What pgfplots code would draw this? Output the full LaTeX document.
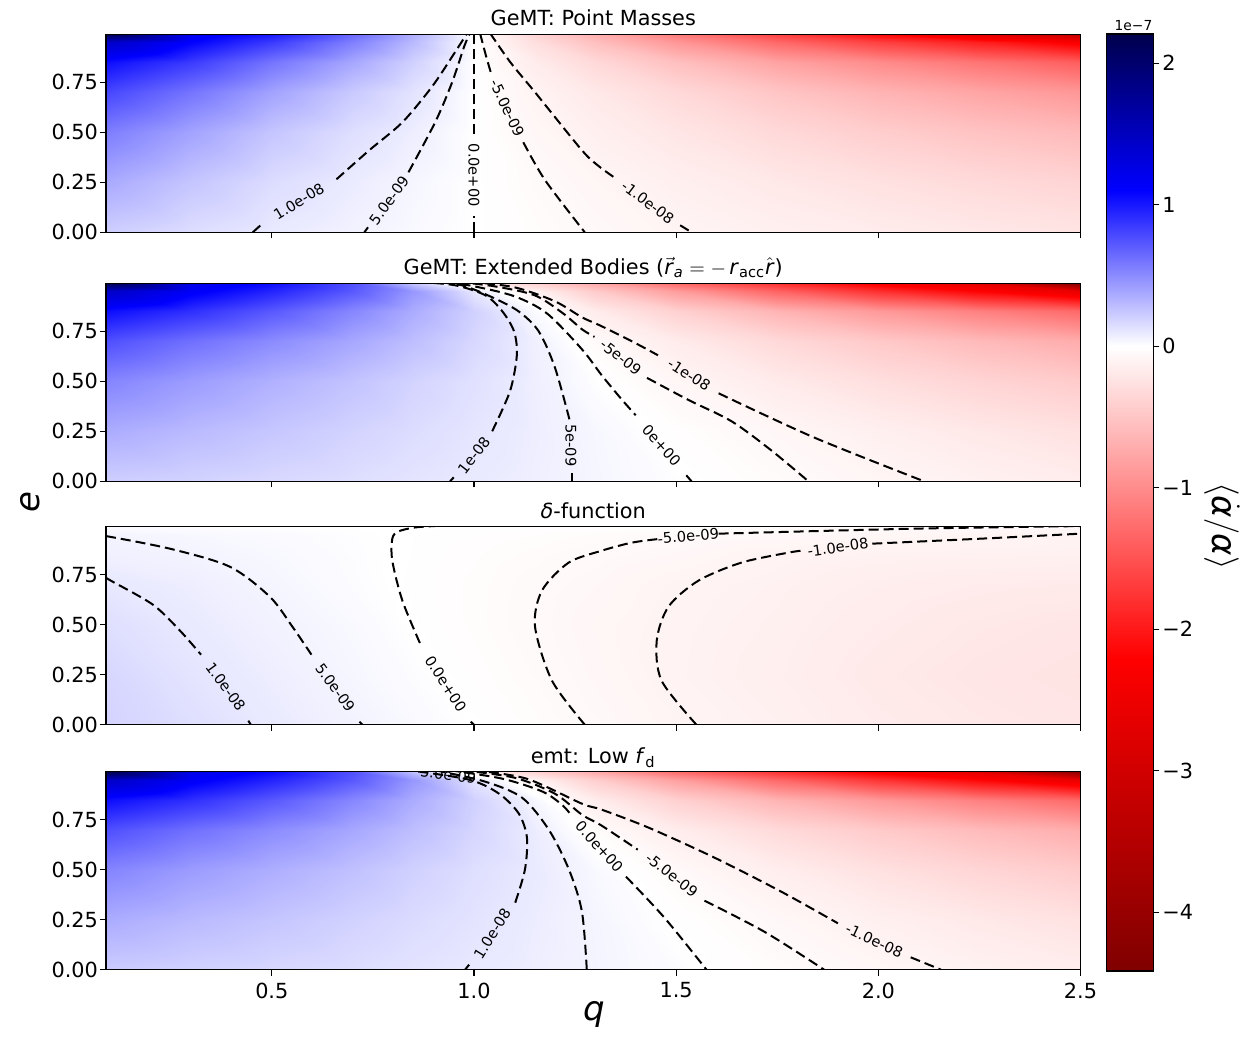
\documentclass[border=0pt]{standalone}
\usepackage{pgfplots}
\pgfplotsset{compat=1.18}
\usepackage{fontspec}
\setmainfont{DejaVu Sans}

\newcommand{\tk}{\fontsize{10.4}{12}\selectfont}
\newcommand{\cl}{\fontsize{7.3}{8}\selectfont}
\newcommand{\axl}{\fontsize{17}{20}\selectfont}

\pgfplotsset{
  colormap={seisr}{rgb(0pt)=(0.5,0,0); rgb(220.75pt)=(1,0,0); rgb(441.5pt)=(1,1,1); rgb(551.85pt)=(0,0,1); rgb(662.2pt)=(0,0,0.3)},
  every axis title/.style={at={(0.5,1)}, anchor=base, yshift=4.2pt, font=\tk},
  panel/.style={
    anchor=south west, at={(53pt,#1)},
    scale only axis, width=487.25pt, height=99pt,
    xmin=0.09, xmax=2.5, ymin=0, ymax=0.99,
    xtick={0.5,1,1.5,2,2.5}, ytick={0,0.25,0.5,0.75},
    yticklabels={0.00,0.25,0.50,0.75}, xticklabels={},
    tick align=outside, tick pos=left, major tick length=3pt,
    tick style={black, line width=0.55pt},
    axis line style={line width=0.55pt},
    tick label style={font=\tk},
    yticklabel style={xshift=2.5pt},
    colormap name=seisr, point meta min=-4.415, point meta max=2.207,
    axis on top,
  },
  heat/.style={surf, shader=interp, mesh/cols=13, point meta=explicit},
  cont/.style={black, line width=1pt, dash pattern=on 5pt off 2.5pt, smooth, tension=0.5},
}

\begin{document}
\begin{tikzpicture}
\path[use as bounding box] (0,0) rectangle (625.5pt,521pt);

% ---- panel 1: point masses
\begin{axis}[panel=404.85pt, title={GeMT: Point Masses}]
\addplot[heat] coordinates {
(0.09,0)[0.21] (0.3,0)[0.145] (0.5,0)[0.093] (0.7,0)[0.055] (0.85,0)[0.027] (1,0)[0] (1.15,0)[-0.027] (1.3,0)[-0.055] (1.5,0)[-0.09] (1.75,0)[-0.13] (2,0)[-0.165] (2.25,0)[-0.2] (2.5,0)[-0.235]
(0.09,0.25)[0.37] (0.3,0.25)[0.25] (0.5,0.25)[0.15] (0.7,0.25)[0.085] (0.85,0.25)[0.04] (1,0.25)[0] (1.15,0.25)[-0.042] (1.3,0.25)[-0.08] (1.5,0.25)[-0.135] (1.75,0.25)[-0.2] (2,0.25)[-0.26] (2.25,0.25)[-0.32] (2.5,0.25)[-0.37]
(0.09,0.5)[0.56] (0.3,0.5)[0.4] (0.5,0.5)[0.25] (0.7,0.5)[0.14] (0.85,0.5)[0.075] (1,0.5)[0] (1.15,0.5)[-0.07] (1.3,0.5)[-0.135] (1.5,0.5)[-0.22] (1.75,0.5)[-0.33] (2,0.5)[-0.43] (2.25,0.5)[-0.52] (2.5,0.5)[-0.6]
(0.09,0.7)[0.8] (0.3,0.7)[0.6] (0.5,0.7)[0.4] (0.7,0.7)[0.23] (0.85,0.7)[0.12] (1,0.7)[0] (1.15,0.7)[-0.1] (1.3,0.7)[-0.2] (1.5,0.7)[-0.33] (1.75,0.7)[-0.5] (2,0.7)[-0.65] (2.25,0.7)[-0.78] (2.5,0.7)[-0.9]
(0.09,0.85)[1.05] (0.3,0.85)[0.85] (0.5,0.85)[0.6] (0.7,0.85)[0.38] (0.85,0.85)[0.2] (1,0.85)[0] (1.15,0.85)[-0.17] (1.3,0.85)[-0.33] (1.5,0.85)[-0.55] (1.75,0.85)[-0.8] (2,0.85)[-1.0] (2.25,0.85)[-1.2] (2.5,0.85)[-1.4]
(0.09,0.95)[1.45] (0.3,0.95)[1.1] (0.5,0.95)[0.85] (0.7,0.95)[0.55] (0.85,0.95)[0.3] (1,0.95)[0] (1.15,0.95)[-0.28] (1.3,0.95)[-0.55] (1.5,0.95)[-0.9] (1.75,0.95)[-1.3] (2,0.95)[-1.65] (2.25,0.95)[-1.95] (2.5,0.95)[-2.3]
(0.09,0.99)[2.2] (0.3,0.99)[1.2] (0.5,0.99)[1.0] (0.7,0.99)[0.65] (0.85,0.99)[0.35] (1,0.99)[0] (1.15,0.99)[-0.38] (1.3,0.99)[-0.7] (1.5,0.99)[-1.15] (1.75,0.99)[-1.65] (2,0.99)[-2.15] (2.25,0.99)[-2.7] (2.5,0.99)[-3.3]
};
\addplot[cont] coordinates {(0.453,0) (0.475,0.04)};
\addplot[cont] coordinates {(0.66,0.265) (0.741,0.41) (0.823,0.55) (0.897,0.73) (0.953,0.9) (0.983,0.995)};
\addplot[cont] coordinates {(0.729,0) (0.738,0.025)};
\addplot[cont] coordinates {(0.838,0.3) (0.904,0.55) (0.946,0.75) (0.976,0.93) (0.99,0.995)};
\addplot[cont] coordinates {(1,0) (1,0.08)};
\addplot[cont] coordinates {(1,0.49) (1,0.995)};
\addplot[cont] coordinates {(1.015,0.995) (1.03,0.88) (1.043,0.79)};
\addplot[cont] coordinates {(1.122,0.45) (1.176,0.26) (1.274,0)};
\addplot[cont] coordinates {(1.04,0.995) (1.09,0.85) (1.151,0.7) (1.267,0.41) (1.309,0.33) (1.35,0.27)};
\addplot[cont] coordinates {(1.51,0.035) (1.538,0)};
\node[font=\cl, rotate=31] at (axis cs:0.567,0.155) {1.0e-08};
\node[font=\cl, rotate=54] at (axis cs:0.79,0.16) {5.0e-09};
\node[font=\cl, rotate=-90] at (axis cs:1.0,0.285) {0.0e+00};
\node[font=\cl, rotate=-65] at (axis cs:1.082,0.62) {-5.0e-09};
\node[font=\cl, rotate=-37] at (axis cs:1.43,0.15) {-1.0e-08};
\end{axis}

% ---- panel 2: extended bodies
\begin{axis}[panel=280.35pt, title={GeMT: Extended Bodies ($\vec{\mbox{\textit{r}}}_{\mbox{\fontsize{7.3}{8}\selectfont\textit{a}}} = -\,\mbox{\textit{r}}_{\mbox{\fontsize{7.3}{8}\selectfont acc}}\hat{\mbox{\textit{r}}}$)}]
\addplot[heat] coordinates {
(0.09,0)[0.21] (0.3,0)[0.19] (0.5,0)[0.165] (0.7,0)[0.14] (0.85,0)[0.115] (1,0)[0.092] (1.15,0)[0.068] (1.3,0)[0.04] (1.5,0)[0.007] (1.75,0)[-0.035] (2,0)[-0.08] (2.25,0)[-0.12] (2.5,0)[-0.16]
(0.09,0.25)[0.36] (0.3,0.25)[0.3] (0.5,0.25)[0.245] (0.7,0.25)[0.19] (0.85,0.25)[0.15] (1,0.25)[0.11] (1.15,0.25)[0.074] (1.3,0.25)[0.035] (1.5,0.25)[-0.015] (1.75,0.25)[-0.07] (2,0.25)[-0.135] (2.25,0.25)[-0.2] (2.5,0.25)[-0.26]
(0.09,0.5)[0.53] (0.3,0.5)[0.43] (0.5,0.5)[0.34] (0.7,0.5)[0.26] (0.85,0.5)[0.19] (1,0.5)[0.13] (1.15,0.5)[0.07] (1.3,0.5)[0.006] (1.5,0.5)[-0.075] (1.75,0.5)[-0.18] (2,0.5)[-0.28] (2.25,0.5)[-0.37] (2.5,0.5)[-0.45]
(0.09,0.7)[0.76] (0.3,0.7)[0.62] (0.5,0.7)[0.5] (0.7,0.7)[0.38] (0.85,0.7)[0.28] (1,0.7)[0.17] (1.15,0.7)[0.065] (1.3,0.7)[-0.04] (1.5,0.7)[-0.17] (1.75,0.7)[-0.33] (2,0.7)[-0.47] (2.25,0.7)[-0.6] (2.5,0.7)[-0.72]
(0.09,0.85)[1.05] (0.3,0.85)[0.9] (0.5,0.85)[0.72] (0.7,0.85)[0.52] (0.85,0.85)[0.36] (1,0.85)[0.2] (1.15,0.85)[0.02] (1.3,0.85)[-0.17] (1.5,0.85)[-0.4] (1.75,0.85)[-0.65] (2,0.85)[-0.88] (2.25,0.85)[-1.1] (2.5,0.85)[-1.3]
(0.09,0.95)[1.45] (0.3,0.95)[1.15] (0.5,0.95)[0.95] (0.7,0.95)[0.72] (0.85,0.95)[0.45] (1,0.95)[0.1] (1.15,0.95)[-0.12] (1.3,0.95)[-0.45] (1.5,0.95)[-0.85] (1.75,0.95)[-1.35] (2,0.95)[-1.8] (2.25,0.95)[-2.2] (2.5,0.95)[-2.6]
(0.09,0.99)[2.2] (0.3,0.99)[1.25] (0.5,0.99)[1.05] (0.7,0.99)[0.75] (0.85,0.99)[0.25] (1,0.99)[-0.15] (1.15,0.99)[-0.4] (1.3,0.99)[-0.75] (1.5,0.99)[-1.3] (1.75,0.99)[-1.8] (2,0.99)[-2.3] (2.25,0.99)[-2.7] (2.5,0.99)[-4.4]
};
\addplot[cont] coordinates {(0.941,0) (0.95,0.02)};
\addplot[cont] coordinates {(1.045,0.25) (1.089,0.45) (1.106,0.63) (1.099,0.75) (1.07,0.85) (1.028,0.93) (0.953,0.98) (0.86,0.997)};
\addplot[cont] coordinates {(1.242,0) (1.242,0.04)};
\addplot[cont] coordinates {(1.236,0.31) (1.2,0.57) (1.16,0.75) (1.11,0.85) (1.045,0.92) (0.97,0.98) (0.9,0.997)};
\addplot[cont] coordinates {(0.93,0.997) (1.0,0.975) (1.1,0.925) (1.18,0.84) (1.267,0.66) (1.316,0.53) (1.365,0.41) (1.4,0.33)};
\addplot[cont] coordinates {(1.525,0.03) (1.538,0)};
\addplot[cont] coordinates {(0.96,0.997) (1.05,0.975) (1.15,0.93) (1.22,0.84) (1.267,0.76) (1.298,0.722)};
\addplot[cont] coordinates {(1.428,0.517) (1.532,0.405) (1.637,0.3) (1.735,0.155) (1.827,0)};
\addplot[cont] coordinates {(0.99,0.997) (1.1,0.97) (1.2,0.9) (1.267,0.82) (1.316,0.775) (1.4,0.69) (1.455,0.63)};
\addplot[cont] coordinates {(1.605,0.44) (1.84,0.22) (2.113,0)};
\node[font=\cl, rotate=52] at (axis cs:1.0,0.13) {1e-08};
\node[font=\cl, rotate=-90] at (axis cs:1.24,0.18) {5e-09};
\node[font=\cl, rotate=-48] at (axis cs:1.464,0.18) {0e+00};
\node[font=\cl, rotate=-38] at (axis cs:1.363,0.62) {-5e-09};
\node[font=\cl, rotate=-33] at (axis cs:1.532,0.533) {-1e-08};
\end{axis}

% ---- panel 3: delta function
\begin{axis}[panel=158.65pt, title={\textit{δ}-function}]
\addplot[heat] coordinates {
(0.09,0)[0.19] (0.3,0)[0.14] (0.5,0)[0.092] (0.7,0)[0.054] (0.85,0)[0.027] (1,0)[0] (1.15,0)[-0.027] (1.3,0)[-0.054] (1.5,0)[-0.09] (1.75,0)[-0.125] (2,0)[-0.17] (2.25,0)[-0.2] (2.5,0)[-0.22]
(0.09,0.25)[0.175] (0.3,0.25)[0.115] (0.5,0.25)[0.075] (0.7,0.25)[0.038] (0.85,0.25)[0.012] (1,0.25)[-0.015] (1.15,0.25)[-0.04] (1.3,0.25)[-0.068] (1.5,0.25)[-0.105] (1.75,0.25)[-0.14] (2,0.25)[-0.19] (2.25,0.25)[-0.22] (2.5,0.25)[-0.24]
(0.09,0.5)[0.14] (0.3,0.5)[0.093] (0.5,0.5)[0.058] (0.7,0.5)[0.028] (0.85,0.5)[-0.002] (1,0.5)[-0.025] (1.15,0.5)[-0.05] (1.3,0.5)[-0.075] (1.5,0.5)[-0.102] (1.75,0.5)[-0.13] (2,0.5)[-0.17] (2.25,0.5)[-0.2] (2.5,0.5)[-0.22]
(0.09,0.7)[0.101] (0.3,0.7)[0.075] (0.5,0.7)[0.043] (0.7,0.7)[0.014] (0.85,0.7)[-0.007] (1,0.7)[-0.025] (1.15,0.7)[-0.047] (1.3,0.7)[-0.065] (1.5,0.7)[-0.095] (1.75,0.7)[-0.12] (2,0.7)[-0.15] (2.25,0.7)[-0.17] (2.5,0.7)[-0.18]
(0.09,0.85)[0.065] (0.3,0.85)[0.05] (0.5,0.85)[0.032] (0.7,0.85)[0.01] (0.85,0.85)[-0.005] (1,0.85)[-0.02] (1.15,0.85)[-0.035] (1.3,0.85)[-0.05] (1.5,0.85)[-0.068] (1.75,0.85)[-0.1] (2,0.85)[-0.115] (2.25,0.85)[-0.12] (2.5,0.85)[-0.125]
(0.09,0.95)[0.048] (0.3,0.95)[0.035] (0.5,0.95)[0.022] (0.7,0.95)[0.007] (0.85,0.95)[-0.004] (1,0.95)[-0.013] (1.15,0.95)[-0.022] (1.3,0.95)[-0.032] (1.5,0.95)[-0.043] (1.75,0.95)[-0.058] (2,0.95)[-0.075] (2.25,0.95)[-0.09] (2.5,0.95)[-0.105]
(0.09,0.99)[0.02] (0.3,0.99)[0.012] (0.5,0.99)[0.007] (0.7,0.99)[0.002] (0.85,0.99)[-0.001] (1,0.99)[-0.005] (1.15,0.99)[-0.01] (1.3,0.99)[-0.015] (1.5,0.99)[-0.02] (1.75,0.99)[-0.03] (2,0.99)[-0.04] (2.25,0.99)[-0.05] (2.5,0.99)[-0.06]
};
\addplot[cont] coordinates {(0.09,0.735) (0.102,0.72) (0.206,0.6) (0.273,0.47) (0.325,0.35)};
\addplot[cont] coordinates {(0.442,0.02) (0.448,0)};
\addplot[cont] coordinates {(0.09,0.943) (0.248,0.88) (0.396,0.79) (0.495,0.64) (0.551,0.49) (0.598,0.35)};
\addplot[cont] coordinates {(0.717,0.015) (0.724,0)};
\addplot[cont] coordinates {(0.95,0.997) (0.9,0.993) (0.85,0.985) (0.812,0.965) (0.798,0.93) (0.798,0.82) (0.823,0.62) (0.868,0.4)};
\addplot[cont] coordinates {(0.992,0.015) (1.0,0)};
\addplot[cont] coordinates {(1.274,0) (1.193,0.22) (1.151,0.49) (1.168,0.67) (1.234,0.81) (1.316,0.87) (1.39,0.91) (1.455,0.928)};
\addplot[cont] coordinates {(1.605,0.955) (2.088,0.98) (2.5,0.993)};
\addplot[cont] coordinates {(1.55,0) (1.464,0.22) (1.452,0.42) (1.481,0.59) (1.555,0.72) (1.661,0.81) (1.777,0.86) (1.815,0.871)};
\addplot[cont] coordinates {(1.985,0.905) (2.253,0.93) (2.5,0.955)};
\node[font=\cl, rotate=-54] at (axis cs:0.386,0.19) {1.0e-08};
\node[font=\cl, rotate=-54] at (axis cs:0.657,0.185) {5.0e-09};
\node[font=\cl, rotate=-57] at (axis cs:0.93,0.205) {0.0e+00};
\node[font=\cl, rotate=5] at (axis cs:1.53,0.942) {-5.0e-09};
\node[font=\cl, rotate=8] at (axis cs:1.9,0.887) {-1.0e-08};
\end{axis}

% ---- panel 4: emt low f_d
\begin{axis}[panel=36.15pt, title={emt: Low \textit{f}\textsubscript{d}}, xticklabels={0.5,1.0,1.5,2.0,2.5}]
\addplot[heat] coordinates {
(0.09,0)[0.22] (0.3,0)[0.195] (0.5,0)[0.17] (0.7,0)[0.145] (0.85,0)[0.12] (1,0)[0.097] (1.15,0)[0.072] (1.3,0)[0.047] (1.5,0)[0.013] (1.75,0)[-0.03] (2,0)[-0.073] (2.25,0)[-0.115] (2.5,0)[-0.155]
(0.09,0.25)[0.36] (0.3,0.25)[0.3] (0.5,0.25)[0.25] (0.7,0.25)[0.195] (0.85,0.25)[0.155] (1,0.25)[0.118] (1.15,0.25)[0.08] (1.3,0.25)[0.043] (1.5,0.25)[-0.005] (1.75,0.25)[-0.065] (2,0.25)[-0.13] (2.25,0.25)[-0.195] (2.5,0.25)[-0.255]
(0.09,0.5)[0.53] (0.3,0.5)[0.43] (0.5,0.5)[0.35] (0.7,0.5)[0.27] (0.85,0.5)[0.2] (1,0.5)[0.14] (1.15,0.5)[0.09] (1.3,0.5)[0.03] (1.5,0.5)[-0.05] (1.75,0.5)[-0.15] (2,0.5)[-0.26] (2.25,0.5)[-0.36] (2.5,0.5)[-0.45]
(0.09,0.7)[0.76] (0.3,0.7)[0.62] (0.5,0.7)[0.5] (0.7,0.7)[0.38] (0.85,0.7)[0.28] (1,0.7)[0.18] (1.15,0.7)[0.08] (1.3,0.7)[-0.03] (1.5,0.7)[-0.16] (1.75,0.7)[-0.32] (2,0.7)[-0.46] (2.25,0.7)[-0.59] (2.5,0.7)[-0.71]
(0.09,0.85)[1.05] (0.3,0.85)[0.9] (0.5,0.85)[0.72] (0.7,0.85)[0.52] (0.85,0.85)[0.36] (1,0.85)[0.2] (1.15,0.85)[0.04] (1.3,0.85)[-0.16] (1.5,0.85)[-0.4] (1.75,0.85)[-0.65] (2,0.85)[-0.88] (2.25,0.85)[-1.1] (2.5,0.85)[-1.3]
(0.09,0.95)[1.45] (0.3,0.95)[1.15] (0.5,0.95)[0.95] (0.7,0.95)[0.72] (0.85,0.95)[0.45] (1,0.95)[0.12] (1.15,0.95)[-0.1] (1.3,0.95)[-0.42] (1.5,0.95)[-0.82] (1.75,0.95)[-1.3] (2,0.95)[-1.75] (2.25,0.95)[-2.15] (2.5,0.95)[-2.55]
(0.09,0.99)[2.2] (0.3,0.99)[1.25] (0.5,0.99)[1.05] (0.7,0.99)[0.75] (0.85,0.99)[0.28] (1,0.99)[-0.12] (1.15,0.99)[-0.38] (1.3,0.99)[-0.72] (1.5,0.99)[-1.25] (1.75,0.99)[-1.75] (2,0.99)[-2.25] (2.25,0.99)[-2.65] (2.5,0.99)[-4.1]
};
\addplot[cont] coordinates {(0.978,0) (0.988,0.025)};
\addplot[cont] coordinates {(1.102,0.335) (1.126,0.5) (1.131,0.66) (1.111,0.78) (1.062,0.88) (0.988,0.95) (0.84,0.997)};
\addplot[cont] coordinates {(1.279,0) (1.267,0.29) (1.235,0.5) (1.185,0.7) (1.119,0.86) (1.028,0.94) (0.904,0.997)};
\addplot[cont] coordinates {(0.94,0.997) (1.07,0.955) (1.17,0.89) (1.22,0.82) (1.243,0.765)};
\addplot[cont] coordinates {(1.376,0.465) (1.471,0.26) (1.575,0)};
\addplot[cont] coordinates {(0.97,0.997) (1.1,0.96) (1.2,0.88) (1.267,0.775) (1.316,0.72) (1.405,0.6)};
\addplot[cont] coordinates {(1.57,0.345) (1.718,0.19) (1.866,0)};
\addplot[cont] coordinates {(1.0,0.997) (1.13,0.955) (1.267,0.83) (1.316,0.8) (1.432,0.71) (1.595,0.56) (1.76,0.39) (1.9,0.232)};
\addplot[cont] coordinates {(2.08,0.062) (2.155,0)};
\node[font=\cl, rotate=58] at (axis cs:1.045,0.18) {1.0e-08};
\node[font=\cl, rotate=-48] at (axis cs:1.31,0.615) {0.0e+00};
\node[font=\cl, rotate=-38] at (axis cs:1.489,0.475) {-5.0e-09};
\node[font=\cl, rotate=-25] at (axis cs:1.99,0.145) {-1.0e-08};
\node[font=\cl, rotate=-8] at (axis cs:0.93,0.975) {-5.0e-09};
\end{axis}

% ---- colour bar
\begin{axis}[anchor=south west, at={(553.15pt,35.5pt)}, scale only axis, width=23.5pt, height=468.5pt,
  xmin=0, xmax=1, ymin=-4.415, ymax=2.207, xtick=\empty,
  ytick={-4,-3,-2,-1,0,1,2}, yticklabels={−4,−3,−2,−1,0,1,2},
  ytick pos=right, yticklabel pos=right, tick align=outside, major tick length=3pt,
  tick style={black, line width=0.55pt}, axis line style={line width=0.55pt},
  tick label style={font=\tk}, yticklabel style={xshift=-2pt},
  colormap name=seisr, point meta min=-4.415, point meta max=2.207, axis on top]
\addplot[surf, shader=interp, mesh/cols=2, point meta=y] coordinates {
(0,-4.415) (1,-4.415) (0,-2.2075) (1,-2.2075) (0,0) (1,0) (0,1.1035) (1,1.1035) (0,2.207) (1,2.207)};
\end{axis}

\node[font=\fontsize{6.9}{8}\selectfont, anchor=base] at (566.75pt,505.75pt) {1e−7};
\node[font=\axl, anchor=base] at (297pt,10.5pt) {\textit{q}};
\node[font=\axl, rotate=90] at (15pt,270pt) {\textit{e}};
\node[font=\axl, rotate=-90] at (611pt,258pt) {$\langle\dot{\mbox{\textit{α}}}/\mbox{\textit{α}}\rangle$};
\end{tikzpicture}
\end{document}
